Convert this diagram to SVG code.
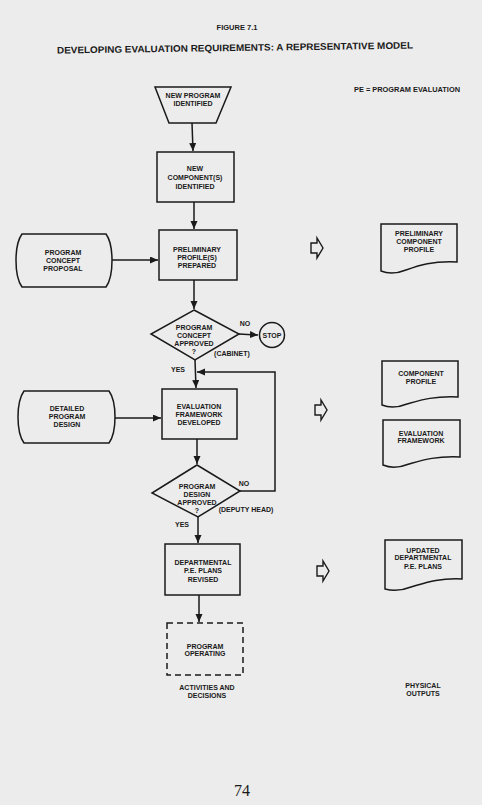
<svg xmlns="http://www.w3.org/2000/svg" width="482" height="805" viewBox="0 0 482 805">
<style>
text{font-family:"Liberation Sans",Arial,sans-serif;font-weight:bold;fill:#1a1a1a;text-anchor:middle}
.n{font-size:7px}
.s{fill:none;stroke:#1a1a1a;stroke-width:1.5}
.c{fill:none;stroke:#1a1a1a;stroke-width:1.5}
.h{fill:none;stroke:#1a1a1a;stroke-width:1.4;stroke-linejoin:miter}
</style>
<defs>
<marker id="ah" markerUnits="userSpaceOnUse" markerWidth="9" markerHeight="8" refX="8" refY="3.5" orient="auto">
<path d="M0,0 L8,3.5 L0,7 Z" fill="#1a1a1a"/>
</marker>
</defs>
<rect width="482" height="805" fill="#ececec"/>

<g id="titles">
<text x="237" y="29.5" style="font-size:7.5px">FIGURE 7.1</text>
<text x="235" y="51" style="font-size:9.5px" textLength="356" lengthAdjust="spacingAndGlyphs" transform="rotate(-0.8 235 51)">DEVELOPING EVALUATION REQUIREMENTS: A REPRESENTATIVE MODEL</text>
<text x="407" y="92" class="n" textLength="106" lengthAdjust="spacingAndGlyphs">PE = PROGRAM EVALUATION</text>
</g>

<g id="connectors">
<line class="c" x1="192" y1="123" x2="193" y2="151" marker-end="url(#ah)"/>
<line class="c" x1="194" y1="202" x2="194" y2="229" marker-end="url(#ah)"/>
<line class="c" x1="112" y1="260" x2="158" y2="260" marker-end="url(#ah)"/>
<line class="c" x1="194" y1="280" x2="194" y2="309" marker-end="url(#ah)"/>
<line class="c" x1="239" y1="334" x2="258" y2="335" marker-end="url(#ah)"/>
<line class="c" x1="195" y1="360" x2="196" y2="388" marker-end="url(#ah)"/>
<line class="c" x1="115" y1="418" x2="161" y2="418" marker-end="url(#ah)"/>
<line class="c" x1="197" y1="439" x2="197" y2="464" marker-end="url(#ah)"/>
<polyline class="c" points="240,491 275,491 275,372 197,372" marker-end="url(#ah)"/>
<line class="c" x1="198" y1="517" x2="198" y2="543" marker-end="url(#ah)"/>
<line class="c" x1="199" y1="595" x2="199" y2="622" marker-end="url(#ah)"/>
</g>

<g id="new-program">
<path class="s" d="M155,87 L231,87 L216,123 L169,123 Z"/>
<text class="n" x="193" y="97.5">NEW PROGRAM</text>
<text class="n" x="193" y="105.5">IDENTIFIED</text>
</g>

<g id="new-components">
<rect class="s" x="157" y="152" width="77" height="50"/>
<text class="n" x="195" y="171">NEW</text>
<text class="n" x="195" y="180">COMPONENT(S)</text>
<text class="n" x="195" y="188.5">IDENTIFIED</text>
</g>

<g id="program-concept-proposal">
<path class="s" d="M22,234 L106,234 C114,245 114,276 106,287 L22,287 C14,276 14,245 22,234 Z"/>
<text class="n" x="63" y="254.5">PROGRAM</text>
<text class="n" x="63" y="262.5">CONCEPT</text>
<text class="n" x="63" y="270.5">PROPOSAL</text>
</g>

<g id="preliminary-profiles">
<rect class="s" x="159" y="230" width="78" height="50"/>
<text class="n" x="197" y="251.5">PRELIMINARY</text>
<text class="n" x="197" y="259.5">PROFILE(S)</text>
<text class="n" x="197" y="268">PREPARED</text>
</g>

<g id="concept-approved">
<path class="s" d="M194,310 L239,334 L195,360 L151,334 Z"/>
<text class="n" x="194" y="329.5">PROGRAM</text>
<text class="n" x="194" y="337.5">CONCEPT</text>
<text class="n" x="194" y="345.5">APPROVED</text>
<text class="n" x="194" y="353.5">?</text>
<text class="n" x="245" y="325.5">NO</text>
<text class="n" x="232" y="355.5">(CABINET)</text>
<text class="n" x="178" y="371.5">YES</text>
</g>

<g id="stop">
<circle class="s" cx="272" cy="335" r="12.5"/>
<text class="n" x="272" y="337.5">STOP</text>
</g>

<g id="detailed-program-design">
<path class="s" d="M24,391 L109,391 C117,402 117,432 109,443 L24,443 C16,432 16,402 24,391 Z"/>
<text class="n" x="67" y="410.5">DETAILED</text>
<text class="n" x="67" y="418.5">PROGRAM</text>
<text class="n" x="67" y="426.5">DESIGN</text>
</g>

<g id="evaluation-framework">
<rect class="s" x="162" y="389" width="75" height="50"/>
<text class="n" x="199" y="408.5">EVALUATION</text>
<text class="n" x="199" y="416.5">FRAMEWORK</text>
<text class="n" x="199" y="424.5">DEVELOPED</text>
</g>

<g id="design-approved">
<path class="s" d="M197,465 L240,491 L198,517 L152,493 Z"/>
<text class="n" x="197" y="488.5">PROGRAM</text>
<text class="n" x="197" y="496.5">DESIGN</text>
<text class="n" x="197" y="504.5">APPROVED</text>
<text class="n" x="197" y="512.5">?</text>
<text class="n" x="244" y="485.5">NO</text>
<text class="n" x="246" y="511.5">(DEPUTY HEAD)</text>
<text class="n" x="182" y="526.5">YES</text>
</g>

<g id="departmental-plans">
<rect class="s" x="165" y="544" width="75" height="51"/>
<text class="n" x="203" y="564.5">DEPARTMENTAL</text>
<text class="n" x="203" y="573">P.E. PLANS</text>
<text class="n" x="203" y="581.5">REVISED</text>
</g>

<g id="program-operating">
<rect class="s" x="167" y="623" width="76" height="52" stroke-dasharray="6,4"/>
<text class="n" x="205" y="648.5">PROGRAM</text>
<text class="n" x="205" y="656">OPERATING</text>
</g>

<g id="activities-label">
<text class="n" x="207" y="689.5">ACTIVITIES AND</text>
<text class="n" x="207" y="698">DECISIONS</text>
</g>

<g id="out-arrow-1">
<polygon class="h" points="311,243 317,243 317,238 323,248 317,258 317,253 311,253"/>
</g>
<g id="out-arrow-2">
<polygon class="h" points="315,405 321,405 321,400 327,410 321,420 321,415 315,415"/>
</g>
<g id="out-arrow-3">
<polygon class="h" points="317,566 323,566 323,561 329,571 323,581 323,576 317,576"/>
</g>

<g id="doc-preliminary-profile">
<path class="s" d="M381,224 H457 V262 C432,261 420,265 406,270 C396,274 388,274 381,271 Z"/>
<text class="n" x="419" y="236">PRELIMINARY</text>
<text class="n" x="419" y="244">COMPONENT</text>
<text class="n" x="419" y="251.5">PROFILE</text>
</g>

<g id="doc-component-profile">
<path class="s" d="M382,361 H458 V397 C433,396 421,400 407,404 C397,408 389,408 382,405 Z"/>
<text class="n" x="421" y="376">COMPONENT</text>
<text class="n" x="421" y="384">PROFILE</text>
</g>

<g id="doc-evaluation-framework">
<path class="s" d="M383,420 H460 V457 C435,456 423,460 409,464 C399,468 390,468 383,465 Z"/>
<text class="n" x="421" y="435.5">EVALUATION</text>
<text class="n" x="421" y="442.5">FRAMEWORK</text>
</g>

<g id="doc-updated-plans">
<path class="s" d="M385,540 H462 V579 C437,578 425,583 411,587 C401,591 392,591 385,589 Z"/>
<text class="n" x="423" y="552.5">UPDATED</text>
<text class="n" x="423" y="559.5">DEPARTMENTAL</text>
<text class="n" x="423" y="568.5">P.E. PLANS</text>
</g>

<g id="outputs-label">
<text class="n" x="423" y="687.5">PHYSICAL</text>
<text class="n" x="423" y="695.5">OUTPUTS</text>
</g>

<g id="page-number">
<text x="242" y="796" style="font-family:'Liberation Serif','Times New Roman',serif;font-weight:normal;font-size:16px">74</text>
</g>
</svg>
